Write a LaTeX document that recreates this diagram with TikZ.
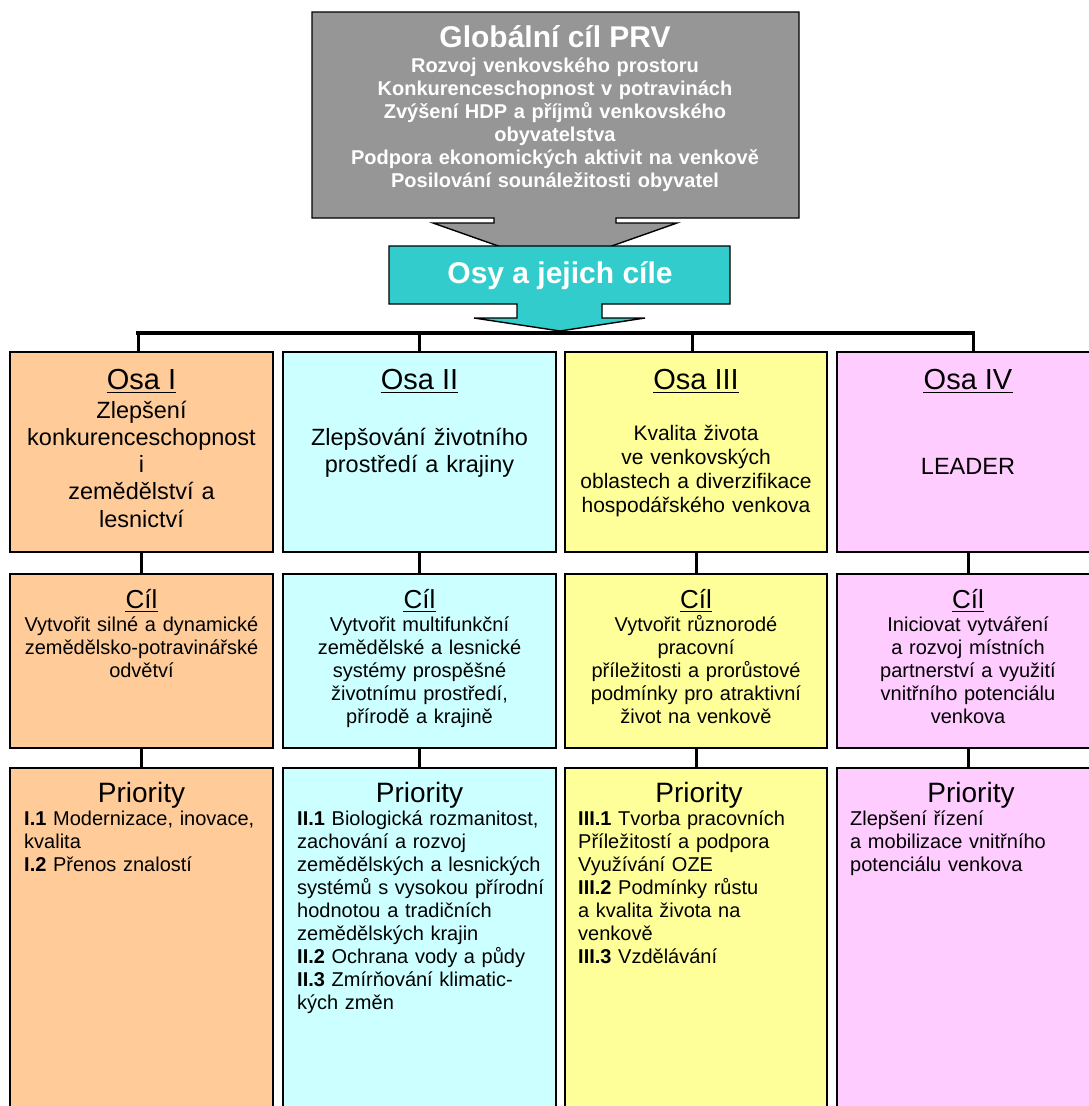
\documentclass[tikz,border=0pt]{standalone}
\usepackage{fontspec}
\setmainfont{Liberation Sans}
\definecolor{peach}{HTML}{FFCC99}
\definecolor{lcyan}{HTML}{CCFFFF}
\definecolor{lyellow}{HTML}{FFFF99}
\definecolor{lpink}{HTML}{FFCCFF}
\definecolor{gbox}{HTML}{969696}
\definecolor{tealbox}{HTML}{33CCCC}
\begin{document}
\begin{tikzpicture}[x=1pt,y=-1pt,
  box/.style={draw=black, line width=1.4pt, anchor=north west, inner sep=0pt, outer sep=0pt},
  conn/.style={draw=black, line width=3pt},
  busline/.style={draw=black, line width=3.5pt, line cap=rect},
  callout/.style={draw=black, line width=1.4pt, line join=miter},
  hd/.style={anchor=base, inner sep=0pt},
  osahd/.style={hd, font=\fontsize{29}{33}\selectfont},
  cilhd/.style={hd, font=\fontsize{26}{30}\selectfont},
  prihd/.style={hd, font=\fontsize{28}{32}\selectfont},
  ulline/.style={draw=black, line width=1.8pt},
  ctext/.style={anchor=base, inner sep=0pt, text width=250pt, align=center},
  ltext/.style={anchor=base west, inner sep=0pt, text width=252pt, align=left, font=\fontsize{20}{23}\selectfont},
  osatext/.style={ctext, font=\fontsize{23.5}{27.3}\selectfont},
  ciltext/.style={ctext, font=\fontsize{20}{23}\selectfont},
]
\useasboundingbox (0,0) rectangle (1089,1106);
\clip (0,0) rectangle (1089,1106);

% ---- gray callout
\draw[callout, fill=gbox] (312,12) -- (799,12) -- (799,218) -- (616,218) -- (616,223) -- (677,223)
  -- (555,266) -- (433,223) -- (494,223) -- (494,218) -- (312,218) -- cycle;
\node[hd, text=white, font=\bfseries\fontsize{30}{34}\selectfont] (gtitle) at (555,47) {Globální cíl PRV};
\node[anchor=base, inner sep=0pt, text width=480pt, align=center, text=white,
      font=\bfseries\fontsize{20}{23}\selectfont] (gbody) at (555,72)
  {Rozvoj venkovského prostoru\\Konkurenceschopnost v potravinách\\Zvýšení HDP a příjmů venkovského\\obyvatelstva\\Podpora ekonomických aktivit na venkově\\Posilování sounáležitosti obyvatel};

% ---- boxes
\node[box, fill=peach,   minimum width=263pt, minimum height=200pt] (osa1) at (10,352) {};
\node[box, fill=lcyan,   minimum width=273pt, minimum height=200pt] (osa2) at (283,352) {};
\node[box, fill=lyellow, minimum width=262pt, minimum height=200pt] (osa3) at (565,352) {};
\node[box, fill=lpink,   minimum width=262pt, minimum height=200pt] (osa4) at (837,352) {};

\node[box, fill=peach,   minimum width=263pt, minimum height=174pt] (cil1) at (10,574) {};
\node[box, fill=lcyan,   minimum width=273pt, minimum height=174pt] (cil2) at (283,574) {};
\node[box, fill=lyellow, minimum width=262pt, minimum height=174pt] (cil3) at (565,574) {};
\node[box, fill=lpink,   minimum width=262pt, minimum height=174pt] (cil4) at (837,574) {};

\node[box, fill=peach,   minimum width=263pt, minimum height=360pt] (pri1) at (10,768) {};
\node[box, fill=lcyan,   minimum width=273pt, minimum height=360pt] (pri2) at (283,768) {};
\node[box, fill=lyellow, minimum width=262pt, minimum height=360pt] (pri3) at (565,768) {};
\node[box, fill=lpink,   minimum width=262pt, minimum height=360pt] (pri4) at (837,768) {};

% ---- bus and connectors
\coordinate (b1) at (138,333);
\coordinate (b2) at (419,333);
\coordinate (b3) at (692,333);
\coordinate (b4) at (973,333);
\draw[busline] (b1) -- (b4);
\draw[conn] (b1) -- (b1 |- osa1.north);
\draw[conn] (b2) -- (b2 |- osa2.north);
\draw[conn] (b3) -- (b3 |- osa3.north);
\draw[conn] (b4) -- (b4 |- osa4.north);
\foreach \i in {1,2,3,4} {
  \draw[conn] (osa\i.south) -- (cil\i.north);
  \draw[conn] (cil\i.south) -- (pri\i.north);
}

% ---- teal callout
\draw[callout, fill=tealbox] (389,246) -- (730,246) -- (730,304) -- (602,304) -- (602,318) -- (645,318)
  -- (560,331) -- (474,318) -- (517,318) -- (517,304) -- (389,304) -- cycle;
\node[hd, text=white, font=\bfseries\fontsize{30}{34}\selectfont] (osy) at (560,283) {Osy a jejich cíle};

% ---- Osa row
\node[osahd] (h1) at (141.5,389) {Osa I};
\node[osahd] (h2) at (419.5,389) {Osa II};
\node[osahd] (h3) at (696,389) {Osa III};
\node[osahd] (h4) at (968,389) {Osa IV};
\node[osatext] (t1) at (141.5,418) {Zlepšení\\konkurenceschopnost\\i\\zemědělství a\\lesnictví};
\node[osatext] (t2) at (419.5,445) {Zlepšování životního\\prostředí a krajiny};
\node[ctext, font=\fontsize{21}{24.2}\selectfont] (t3) at (696,440) {Kvalita života\\ve venkovských\\oblastech a diverzifikace\\hospodářského venkova};
\node[osatext] (t4) at (968,474) {LEADER};

% ---- Cil row
\node[cilhd] (c1) at (141.5,608) {Cíl};
\node[cilhd] (c2) at (419.5,608) {Cíl};
\node[cilhd] (c3) at (696,608) {Cíl};
\node[cilhd] (c4) at (968,608) {Cíl};
\node[ciltext] (ct1) at (141.5,631) {Vytvořit silné a dynamické\\zemědělsko-potravinářské\\odvětví};
\node[ciltext] (ct2) at (419.5,631) {Vytvořit multifunkční\\zemědělské a lesnické\\systémy prospěšné\\životnímu prostředí,\\přírodě a krajině};
\node[ciltext] (ct3) at (696,631) {Vytvořit různorodé\\pracovní\\příležitosti a prorůstové\\podmínky pro atraktivní\\život na venkově};
\node[ciltext] (ct4) at (968,631) {Iniciovat vytváření\\ a rozvoj místních\\partnerství a využití\\ vnitřního potenciálu\\venkova};

% ---- underlines
\foreach \n in {h1,h2,h3,h4,c1,c2,c3,c4} {
  \draw[ulline] ([yshift=-3.5pt]\n.base west) -- ([yshift=-3.5pt]\n.base east);
}

% ---- Priority row
\node[prihd] (p1) at (141.5,802) {Priority};
\node[prihd] (p2) at (419.5,802) {Priority};
\node[prihd] (p3) at (699,802) {Priority};
\node[prihd] (p4) at (971,802) {Priority};
\node[ltext] (pt1) at (24,825) {\textbf{I.1} Modernizace, inovace,\\kvalita\\\textbf{I.2} Přenos znalostí};
\node[ltext] (pt2) at (297,825) {\textbf{II.1} Biologická rozmanitost,\\zachování a rozvoj\\zemědělských a lesnických\\systémů s vysokou přírodní\\hodnotou a tradičních\\zemědělských krajin\\\textbf{II.2} Ochrana vody a půdy\\\textbf{II.3} Zmírňování klimatic-\\kých změn};
\node[ltext] (pt3) at (578,825) {\textbf{III.1} Tvorba pracovních\\Příležitostí a podpora\\Využívání OZE\\\textbf{III.2} Podmínky růstu\\a kvalita života na\\venkově\\\textbf{III.3} Vzdělávání};
\node[ltext] (pt4) at (850,825) {Zlepšení řízení\\a mobilizace vnitřního\\potenciálu venkova};
\end{tikzpicture}
\end{document}
